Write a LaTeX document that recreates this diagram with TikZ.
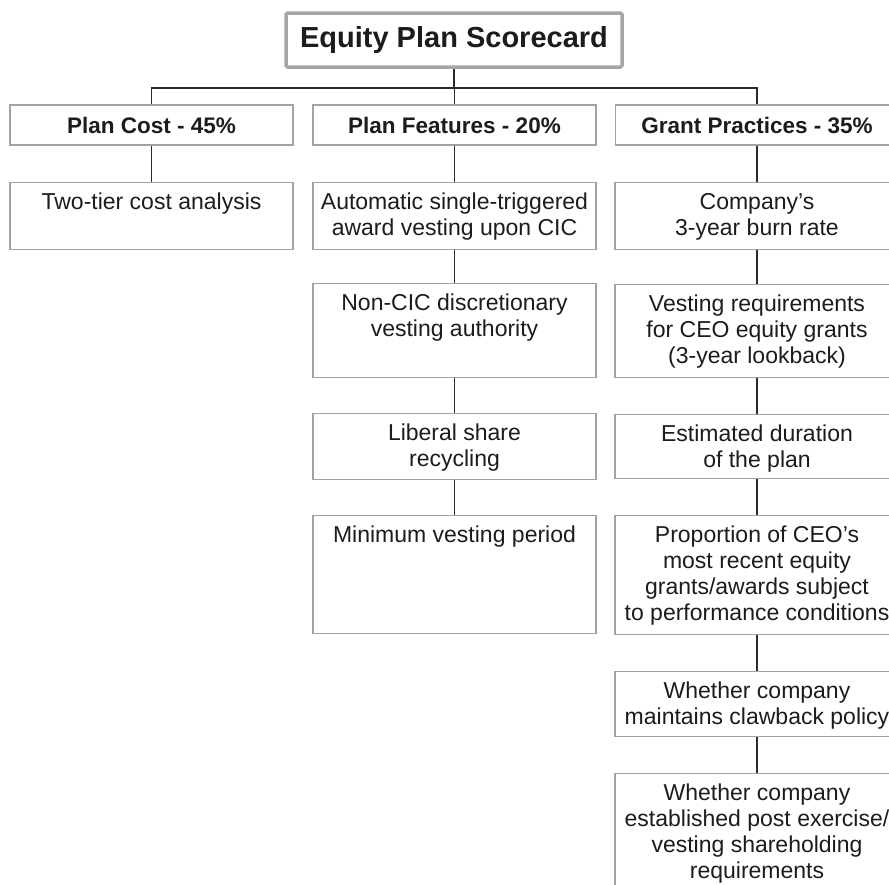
\documentclass[tikz,border=0pt]{standalone}
\usepackage{fontspec}
\setmainfont{Liberation Sans}
\definecolor{boxgray}{HTML}{A3A3A3}
\definecolor{framegray}{HTML}{A6A6A6}
\definecolor{wire}{HTML}{2B2B2B}
\definecolor{ink}{HTML}{1C1C1C}
\begin{document}
\begin{tikzpicture}[x=1pt,y=-1pt,
  titlebox/.style={draw=framegray, line width=3.5pt, rounded corners=1.5pt, fill=white,
    minimum width=336pt, minimum height=54pt, inner sep=0pt, text=ink,
    font=\fontsize{29}{34}\selectfont\bfseries},
  headbox/.style={draw=boxgray, line width=1.4pt, fill=white, minimum width=283pt,
    minimum height=40pt, inner sep=0pt, text=ink, font=\fontsize{22.5}{26}\selectfont\bfseries},
  itembox/.style={draw=boxgray, line width=1.4pt, fill=white, minimum width=283pt,
    inner sep=0pt, anchor=north},
  itemtext/.style={anchor=north, inner sep=0pt, align=center, text=ink,
    font=\fontsize{23}{26}\selectfont},
  conn/.style={draw=wire, line width=1.8pt}
]
\useasboundingbox (0,0) rectangle (889,884);
\clip (0,0) rectangle (889,884);
\fill[white] (0,0) rectangle (889,884);

% top of the tree
\node[titlebox] (title) at (454,40) {Equity Plan Scorecard};
\coordinate (bus) at (454,88);

% column headers
\node[headbox] (cost)  at (151.5,125) {Plan Cost - 45\%};
\node[headbox] (feat)  at (454.5,125) {Plan Features - 20\%};
\node[headbox] (grant) at (757,125)   {Grant Practices - 35\%};

% Plan Cost column
\node[itembox, minimum height=67pt] (c1) at (151.5,182) {};
\node[itemtext] (c1t) at ([yshift=-9pt]c1.north) {\strut Two-tier cost analysis};

% Plan Features column
\node[itembox, minimum height=67pt] (f1) at (454.5,182) {};
\node[itemtext] (f1t) at ([yshift=-9pt]f1.north) {\strut Automatic single-triggered\\award vesting upon CIC};
\node[itembox, minimum height=94pt] (f2) at (454.5,283) {};
\node[itemtext] (f2t) at ([yshift=-9pt]f2.north) {\strut Non-CIC discretionary\\vesting authority};
\node[itembox, minimum height=66pt] (f3) at (454.5,413) {};
\node[itemtext] (f3t) at ([yshift=-9pt]f3.north) {\strut Liberal share\\recycling};
\node[itembox, minimum height=118pt] (f4) at (454.5,515) {};
\node[itemtext] (f4t) at ([yshift=-9pt]f4.north) {\strut Minimum vesting period};

% Grant Practices column
\node[itembox, minimum width=284pt, minimum height=67pt] (g1) at (757,182) {};
\node[itemtext] (g1t) at ([yshift=-9pt]g1.north) {\strut Company's\\3-year burn rate};
\node[itembox, minimum width=284pt, minimum height=93pt] (g2) at (757,284) {};
\node[itemtext] (g2t) at ([yshift=-9pt]g2.north) {\strut Vesting requirements\\for CEO equity grants\\(3-year lookback)};
\node[itembox, minimum width=284pt, minimum height=64pt] (g3) at (757,414) {};
\node[itemtext] (g3t) at ([yshift=-9pt]g3.north) {\strut Estimated duration\\of the plan};
\node[itembox, minimum width=284pt, minimum height=119pt] (g4) at (757,515) {};
\node[itemtext] (g4t) at ([yshift=-9pt]g4.north) {\strut Proportion of CEO's\\most recent equity\\grants/awards subject\\to performance conditions};
\node[itembox, minimum width=284pt, minimum height=65pt] (g5) at (757,671) {};
\node[itemtext] (g5t) at ([yshift=-9pt]g5.north) {\strut Whether company\\maintains clawback policy};
\node[itembox, minimum width=284pt, minimum height=140pt] (g6) at (757,773) {};
\node[itemtext] (g6t) at ([yshift=-9pt]g6.north) {\strut Whether company\\established post exercise/\\vesting shareholding\\requirements};

% connectors
\draw[conn] (title.south) -- (bus);
\draw[conn] (cost.north) -- (cost.north |- bus) -- (grant.north |- bus) -- (grant.north);
\draw[conn] (feat.north) -- (feat.north |- bus);
\draw[conn] (cost.south) -- (c1.north);
\draw[conn] (feat.south) -- (f1.north);
\draw[conn] (f1.south) -- (f2.north);
\draw[conn] (f2.south) -- (f3.north);
\draw[conn] (f3.south) -- (f4.north);
\draw[conn] (grant.south) -- (g1.north);
\draw[conn] (g1.south) -- (g2.north);
\draw[conn] (g2.south) -- (g3.north);
\draw[conn] (g3.south) -- (g4.north);
\draw[conn] (g4.south) -- (g5.north);
\draw[conn] (g5.south) -- (g6.north);
\end{tikzpicture}
\end{document}
